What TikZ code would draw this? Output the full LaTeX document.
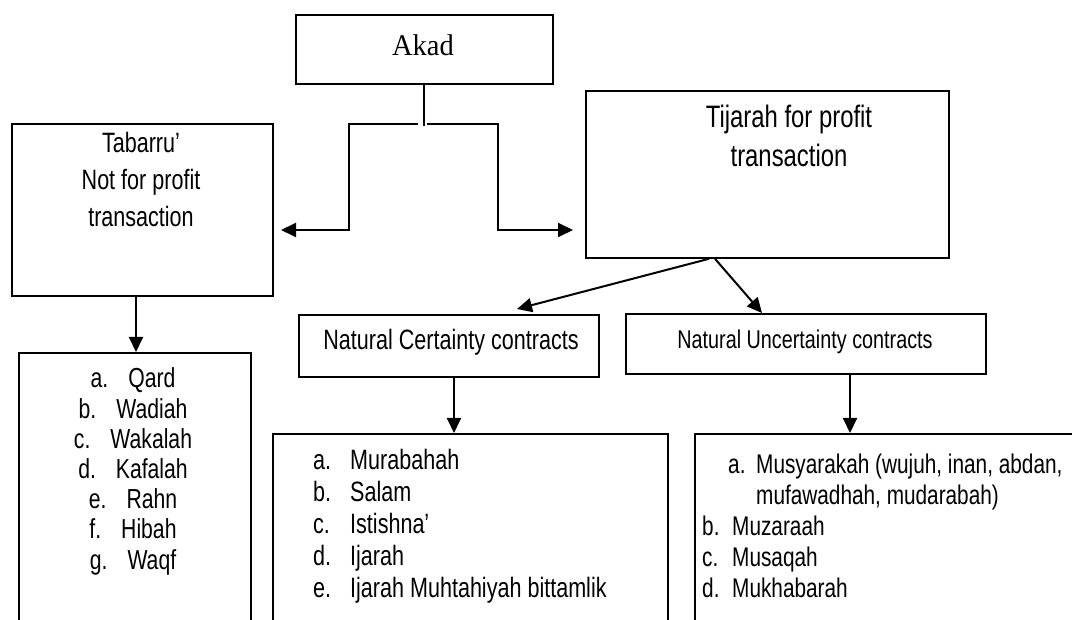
\documentclass[tikz,border=0pt]{standalone}
\usepackage{fontspec}
\newfontfamily\arl{Liberation Sans}[FakeStretch=0.77]
\newfontfamily\srf{Liberation Serif}[FakeStretch=0.95]
\usetikzlibrary{arrows.meta,calc}
\begin{document}
\begin{tikzpicture}[x=1pt,y=-1pt,
  box/.style={draw,line width=1.8pt,inner sep=0pt,anchor=north west},
  lbl/.style={inner sep=0pt,anchor=base},
  arr/.style={line width=2pt,-{Triangle[length=15pt,width=14pt]}},
  conn/.style={line width=2pt}]
\fill[white] (0,0) rectangle (1072,620);
\useasboundingbox (0,0) rectangle (1072,620);
\clip (0,0) rectangle (1072,620);
% boxes
\node[box,minimum width=257pt,minimum height=69pt] (akad) at (295,14) {};
\node[box,minimum width=261pt,minimum height=172pt] (tab) at (11,123) {};
\node[box,minimum width=363pt,minimum height=167pt] (tij) at (585,90) {};
\node[box,minimum width=300pt,minimum height=62pt] (nc) at (298,314) {};
\node[box,minimum width=360pt,minimum height=60pt] (nu) at (625,313) {};
\node[box,minimum width=232pt,minimum height=300pt] (tabl) at (18,352) {};
\node[box,minimum width=395pt,minimum height=250pt] (ncl) at (272,433) {};
\node[box,minimum width=420pt,minimum height=250pt] (nul) at (694,433) {};
% texts (base anchor of a multi-line node = last line)
\node[lbl,font=\fontsize{30}{36}\srf] (takad) at (423,56) {Akad};
\node[lbl,font=\fontsize{28}{37}\arl,align=center] (ttab) at (141,227) {Tabarru’\\Not for profit\\transaction};
\node[lbl,font=\fontsize{31}{39}\arl,align=center] (ttij) at (789,167) {Tijarah for profit\\transaction};
\node[lbl,font=\fontsize{28}{30}\arl] (tnc) at (451,350) {Natural Certainty contracts};
\node[lbl,font=\fontsize{25.7}{30}\arl] (tnu) at (805,349) {Natural Uncertainty contracts};
\node[lbl,font=\fontsize{27.5}{30.2}\arl,align=center] (ttabl) at (133,569)
  {a.\hspace{20pt}Qard\\b.\hspace{20pt}Wadiah\\c.\hspace{20pt}Wakalah\\d.\hspace{20pt}Kafalah\\e.\hspace{20pt}Rahn\\f.\hspace{20pt}Hibah\\g.\hspace{20pt}Waqf};
\node[lbl,anchor=base west,font=\fontsize{28}{32}\arl,align=left] (tncl) at (313,597)
  {\makebox[37pt][l]{a.}Murabahah\\\makebox[37pt][l]{b.}Salam\\\makebox[37pt][l]{c.}Istishna’\\\makebox[37pt][l]{d.}Ijarah\\\makebox[37pt][l]{e.}Ijarah Muhtahiyah bittamlik};
\node[lbl,anchor=base west,font=\fontsize{27}{31}\arl,align=left] (tnul) at (702,597)
  {\hspace*{26pt}\makebox[28pt][l]{a.}Musyarakah (wujuh, inan, abdan,\\\hspace*{54pt}mufawadhah, mudarabah)\\\makebox[30pt][l]{b.}Muzaraah\\\makebox[30pt][l]{c.}Musaqah\\\makebox[30pt][l]{d.}Mukhabarah};
% connectors
\coordinate (jl) at (418,124);
\coordinate (jr) at (427,124);
\coordinate (al) at (281,230);
\coordinate (ar) at (573,230);
\draw[conn] (akad.south) -- (akad.south |- 0,126);
\draw[arr] (jl) -| (349,230) -- (al);
\draw[arr] (jr) -| (498,230) -- (ar);
\draw[arr] (tab.south -| 136,0) -- (tabl.north -| 136,0);
\draw[arr] (nc.south -| 454,0) -- (ncl.north -| 454,0);
\draw[arr] (nu.south -| 850,0) -- (nul.north -| 850,0);
\draw[arr] (tij.south -| 709,0) -- ($(nc.north -| 517,0)+(0,-5)$);
\draw[arr] (tij.south -| 715,0) -- (nu.north -| 762,0);
\end{tikzpicture}
\end{document}
